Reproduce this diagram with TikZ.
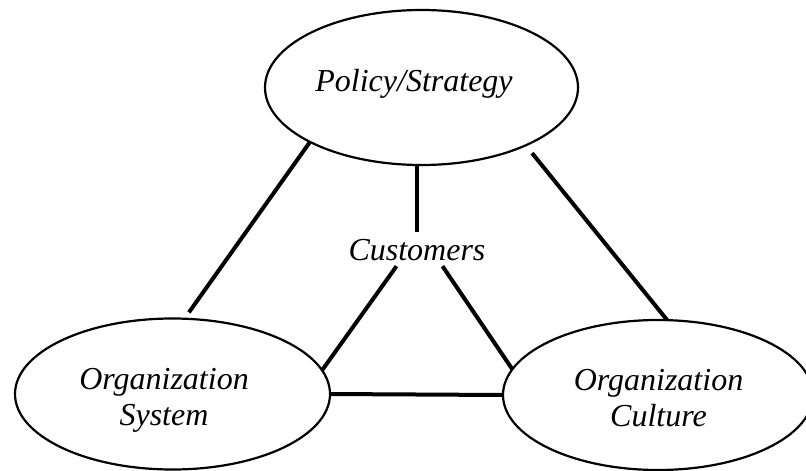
\documentclass[tikz,border=0pt]{standalone}
\usepackage{fontspec}
\setmainfont{Liberation Serif}[ItalicFont={Liberation Serif Italic}]
\newfontfamily\termit{Liberation Serif Italic}
\usetikzlibrary{shapes.geometric}
\begin{document}
\begin{tikzpicture}[x=1pt,y=-1pt,
  oval/.style={ellipse,draw,line width=2.2pt,inner sep=0pt,outer sep=0pt},
  txt/.style={font=\fontsize{32}{36}\selectfont\termit,align=center,inner sep=0pt},
  link/.style={line width=4pt}]
\useasboundingbox (0,0) rectangle (806,471);
\clip (0,0) rectangle (806,471);
\node[oval,minimum width=313pt,minimum height=155pt,
  label={[txt,shift={(-7.5,-3.5)}]center:Policy/Strategy}] (P) at (421.5,87.5) {};
\node[oval,minimum width=315pt,minimum height=151pt,
  label={[txt,shift={(-8.5,6)}]center:Organization\\System}] (S) at (172.5,394) {};
\node[oval,minimum width=310pt,minimum height=150pt,
  label={[txt,shift={(0.5,3.5)}]center:Organization\\Culture}] (R) at (658,395) {};
\node[txt,text height=22pt,text depth=0pt,inner sep=6pt,anchor=base] (C) at (417,260) {Customers};
\draw[link,shorten >=7.8pt] (P.206) -- (S.81.3);
\draw[link,shorten <=10pt] (P.331.3) -- (R.83.1);
\draw[link] (P.south -| C.north) -- (C.north);
\draw[link] (C.220.4) -- (S.9.8);
\draw[link] (C.326.8) -- (R.170.2);
\draw[link] (S.east) -- (R.west);
\end{tikzpicture}
\end{document}
